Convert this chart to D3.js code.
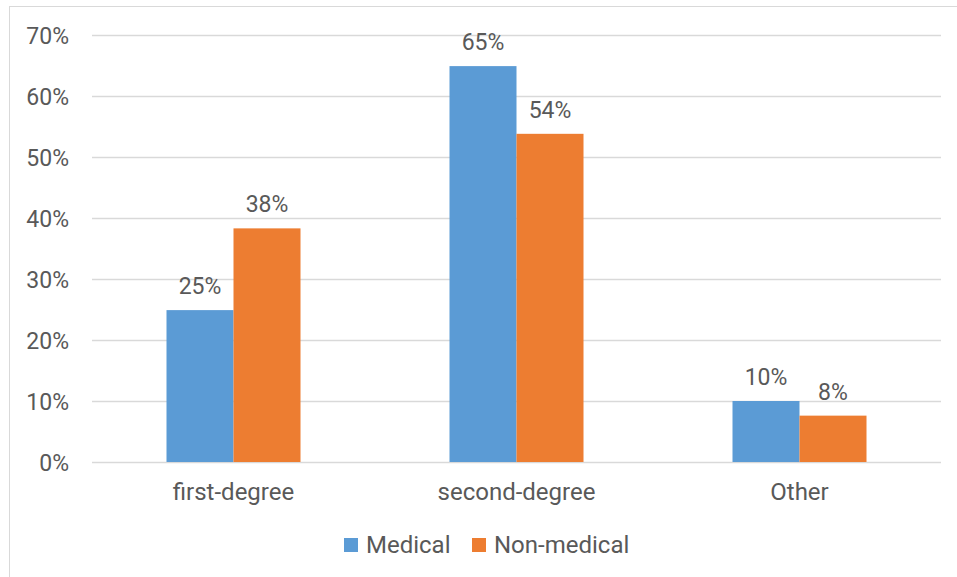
<!DOCTYPE html>
<html>
<head>
<meta charset="utf-8">
<script src="https://cdn.jsdelivr.net/npm/d3@7"></script>
<style>
  body { margin: 0; background: #fff; }
  text { font-family: Roboto, "Noto Sans", sans-serif; fill: #595959; }
</style>
</head>
<body>
<script>
// categories and series
var categories = ["first-degree", "second-degree", "Other"];
var seriesNames = ["Medical", "Non-medical"];
var medical = [24.9, 64.9, 10.0];
var nonMedical = [38.3, 53.8, 7.6];
var valueLabels = [["25%", "65%", "10%"], ["38%", "54%", "8%"]];
var yTicks = [0, 10, 20, 30, 40, 50, 60, 70];

var WIDTH = 957, HEIGHT = 577;
var colors = ["#5b9bd5", "#ed7d31"];

var svg = d3.select("body").append("svg")
    .attr("width", WIDTH)
    .attr("height", HEIGHT);

// chart frame (cut off at right and bottom in the reference)
svg.append("rect")
    .attr("x", 9.5).attr("y", 6.5)
    .attr("width", 1000).attr("height", 1000)
    .attr("fill", "none")
    .attr("stroke", "#d9d9d9");

var plotLeft = 92, plotRight = 941, plotTop = 35, plotBottom = 462;

var y = d3.scaleLinear().domain([0, 70]).range([plotBottom, plotTop]);
var x0 = d3.scaleBand().domain(categories).range([plotLeft, plotRight]);
var x1 = d3.scaleBand().domain(seriesNames).range([0, 134]);

// gridlines + y labels
var yAxis = d3.axisLeft(y)
    .tickValues(yTicks)
    .tickSize(-(plotRight - plotLeft))
    .tickFormat(function(d) { return d + "%"; });
var gy = svg.append("g")
    .attr("transform", "translate(" + plotLeft + ",0)")
    .call(yAxis);
gy.select(".domain").remove();
gy.selectAll(".tick line").attr("stroke", "#d9d9d9").attr("stroke-width", 1.5);
gy.selectAll(".tick text")
    .attr("x", -23)
    .attr("dy", "0.35em")
    .style("font-size", "23px")
    .style("font-family", "Roboto, sans-serif")
    .attr("fill", "#595959");

var series = [medical, nonMedical];

var groups = svg.selectAll(".grp")
    .data(categories)
    .enter().append("g")
    .attr("class", "grp")
    .attr("transform", function(d) {
      return "translate(" + (x0(d) + x0.bandwidth() / 2 - 67) + ",0)";
    });

groups.each(function(cat, ci) {
  var g = d3.select(this);
  seriesNames.forEach(function(s, si) {
    var v = series[si][ci];
    g.append("rect")
      .attr("x", x1(s))
      .attr("y", y(v))
      .attr("width", x1.bandwidth())
      .attr("height", y(0) - y(v))
      .attr("fill", colors[si]);
    g.append("text")
      .attr("x", x1(s) + x1.bandwidth() / 2)
      .attr("y", y(v) - 16)
      .attr("text-anchor", "middle")
      .style("font-size", "23px")
      .text(valueLabels[si][ci]);
  });
});

// category labels
svg.selectAll(".cat")
    .data(categories)
    .enter().append("text")
    .attr("class", "cat")
    .attr("x", function(d) { return x0(d) + x0.bandwidth() / 2; })
    .attr("y", 500)
    .attr("text-anchor", "middle")
    .style("font-size", "24px")
    .text(function(d) { return d; });

// legend
var legendX = [344, 472];
var legend = svg.selectAll(".leg")
    .data(seriesNames)
    .enter().append("g")
    .attr("class", "leg")
    .attr("transform", function(d, i) { return "translate(" + legendX[i] + ",538)"; });
legend.append("rect")
    .attr("width", 14).attr("height", 14)
    .attr("fill", function(d, i) { return colors[i]; });
legend.append("text")
    .attr("x", 22)
    .attr("y", 15)
    .style("font-size", "24px")
    .text(function(d) { return d; });
</script>
</body>
</html>
